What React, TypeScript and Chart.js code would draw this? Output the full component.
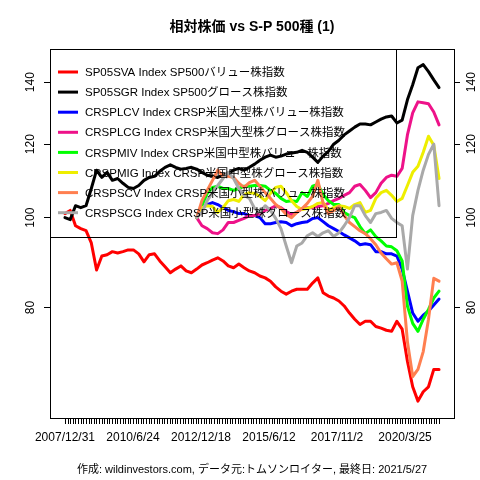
import { useEffect, useRef } from 'react';
import { Chart, registerables } from 'chart.js';

Chart.register(...registerables);

const TITLE = '相対株価 vs S-P 500種 (1)';
const CAPTION = '作成: wildinvestors.com, データ元:トムソンロイター, 最終日: 2021/5/27';
const X_LABELS = ['2007/12/31', '2010/6/24', '2012/12/18', '2015/6/12', '2017/11/2', '2020/3/25'];
const X_TICK_COUNT = 144;
const X_LABEL_EVERY = 26;
const Y_TICKS = [80, 100, 120, 140];
const Y_MIN = 60.8;
const Y_MAX = 152;
const LATE_START = 25;

const SERIES_NAMES = [
  'SP05SVA Index SP500バリュー株指数',
  'SP05SGR Index SP500グロース株指数',
  'CRSPLCV Index CRSP米国大型株バリュー株指数',
  'CRSPLCG Index CRSP米国大型株グロース株指数',
  'CRSPMIV Index CRSP米国中型株バリュー株指数',
  'CRSPMIG Index CRSP米国中型株グロース株指数',
  'CRSPSCV Index CRSP米国小型株バリュー株指数',
  'CRSPSCG Index CRSP米国小型株グロース株指数',
];
const SERIES_COLORS = ['#FF0000', '#000000', '#0000FF', '#EE1289', '#00FF00', '#EEEE00', '#FF7F50', '#A9A9A9'];

const SP05SVA = [
  101.0, 101.8, 98.0, 97.3, 96.8, 93.9, 87.8, 90.9, 91.2, 91.9,
  91.6, 91.9, 92.3, 92.3, 91.4, 89.6, 91.2, 91.4, 89.8, 88.5,
  87.2, 88.0, 88.7, 87.6, 87.2, 88.0, 88.9, 89.4, 90.0, 90.5,
  89.8, 88.7, 88.3, 89.1, 88.3, 87.6, 87.2, 86.5, 86.1, 85.4,
  84.2, 83.3, 82.7, 83.3, 83.7, 83.7, 83.7, 85.0, 86.1, 83.0,
  82.3, 81.9, 81.3, 80.3, 78.9, 77.7, 76.7, 77.3, 77.3, 76.3,
  76.0, 75.6, 75.4, 77.3, 75.8, 70.0, 65.7, 63.4, 64.9, 65.7,
  68.6, 68.6,
];
const SP05SGR = [
  100.0, 99.5, 103.0, 102.5, 103.0, 107.5, 112.5, 110.5, 111.9, 109.7,
  110.2, 108.9, 107.8, 107.5, 108.3, 109.7, 110.5, 110.8, 112.2, 113.3,
  114.0, 113.3, 112.8, 113.0, 113.3, 112.8, 111.9, 111.1, 110.8, 110.5,
  111.1, 111.6, 112.5, 113.0, 112.5, 113.3, 114.2, 115.3, 116.2, 116.8,
  116.2, 116.5, 117.1, 117.4, 117.6, 118.2, 117.6, 116.2, 114.7, 116.5,
  117.9, 120.0, 121.2, 122.8, 124.0, 125.2, 126.2, 126.2, 125.9, 126.8,
  127.7, 128.4, 128.7, 126.5, 127.4, 134.0, 139.1, 145.1, 146.2, 143.7,
  140.8, 138.1,
];
const CRSPLCV = [
  100.0, 102.3, 103.3, 103.8, 103.3, 102.5, 101.8, 101.5, 101.0, 101.0,
  100.5, 100.5, 100.0, 98.5, 98.5, 98.8, 99.0, 98.8, 98.0, 98.5,
  98.8, 99.0, 99.8, 100.0, 99.0, 98.0, 97.3, 96.6, 95.8, 95.1,
  94.4, 93.5, 93.7, 93.5, 91.9, 91.9, 91.4, 91.4, 90.9, 88.0,
  83.3, 78.9, 77.3, 78.5, 79.3, 80.5, 81.7,
];
const CRSPLCG = [
  100.0, 98.0, 97.3, 96.3, 96.1, 97.0, 98.8, 98.8, 99.3, 99.8,
  100.5, 100.5, 101.0, 101.8, 102.3, 103.0, 102.5, 101.5, 100.8, 101.3,
  102.3, 102.5, 102.5, 102.8, 103.0, 103.6, 104.3, 104.9, 105.7, 106.4,
  108.1, 108.6, 107.0, 105.1, 106.4, 108.9, 110.5, 111.1, 110.8, 113.0,
  122.8, 129.7, 133.3, 133.0, 132.7, 130.0, 125.9,
];
const CRSPMIV = [
  100.0, 103.0, 106.2, 107.8, 108.1, 107.5, 107.5, 107.0, 107.5, 108.1,
  108.1, 108.3, 108.3, 108.1, 107.0, 106.2, 104.9, 104.1, 104.3, 104.1,
  106.4, 105.4, 108.1, 108.6, 105.9, 104.3, 103.3, 103.3, 101.3, 100.5,
  100.0, 97.8, 96.1, 97.0, 95.4, 94.4, 93.2, 93.0, 92.1, 89.8,
  80.3, 76.9, 75.4, 77.7, 79.6, 81.9, 83.3,
];
const CRSPMIG = [
  100.0, 102.5, 103.0, 102.8, 101.3, 102.5, 104.3, 104.6, 104.1, 105.9,
  106.4, 106.2, 105.4, 104.3, 106.2, 107.8, 108.1, 106.4, 104.3, 102.8,
  102.0, 102.3, 102.8, 103.6, 103.8, 101.8, 102.5, 103.0, 102.8, 102.3,
  103.3, 103.8, 101.3, 101.8, 104.9, 106.4, 107.0, 105.7, 104.1, 104.9,
  108.3, 111.9, 113.6, 117.6, 122.4, 119.7, 110.2,
];
const CRSPSCV = [
  100.0, 104.3, 107.0, 109.7, 112.5, 110.8, 110.8, 110.5, 108.9, 107.8,
  109.1, 109.7, 108.1, 106.4, 104.9, 103.3, 102.3, 100.8, 100.0, 101.3,
  102.3, 103.6, 105.4, 109.7, 103.6, 101.0, 101.8, 102.8, 100.5, 98.8,
  97.8, 96.8, 96.1, 94.9, 93.5, 91.6, 90.3, 89.1, 89.4, 85.4,
  73.5, 67.4, 68.6, 71.7, 77.7, 86.0, 85.4,
];
const CRSPSCG = [
  100.0, 101.3, 104.3, 106.4, 108.3, 110.2, 111.9, 110.2, 107.5, 105.7,
  104.9, 102.3, 101.3, 103.0, 101.8, 99.8, 97.3, 93.2, 89.4, 93.2,
  93.9, 95.6, 96.3, 95.4, 96.3, 96.8, 95.4, 96.3, 98.0, 100.0,
  103.0, 103.0, 100.5, 98.8, 101.0, 101.3, 101.8, 99.8, 98.8, 98.0,
  88.0, 100.5, 107.0, 112.5, 117.0, 120.0, 103.0,
];

const SERIES_VALUES = [SP05SVA, SP05SGR, CRSPLCV, CRSPLCG, CRSPMIV, CRSPMIG, CRSPSCV, CRSPSCG];
const SERIES_STARTS = [0, 0, LATE_START, LATE_START, LATE_START, LATE_START, LATE_START, LATE_START];

const FONT = '"Liberation Sans", "Noto Sans CJK JP", sans-serif';
const FULL_N = SP05SVA.length;
const X_SPAN = X_TICK_COUNT - 1;
const xAt = (i: number) => (i * X_SPAN) / (FULL_N - 1);

const overlayPlugin = {
  id: 'overlay',
  afterDraw(chart: any) {
    const ctx = chart.ctx;
    const area = chart.chartArea;
    const yScale = chart.scales.y;
    const xScale = chart.scales.x;
    ctx.save();
    ctx.fillStyle = '#000';
    ctx.strokeStyle = '#000';

    // dense x tick marks
    ctx.lineWidth = 1;
    ctx.beginPath();
    for (let i = 0; i < X_TICK_COUNT; i++) {
      const px = Math.round(xScale.getPixelForValue(i)) + 0.5;
      ctx.moveTo(px, area.bottom);
      ctx.lineTo(px, area.bottom + 6);
    }
    ctx.stroke();

    // title
    ctx.font = `bold 14px ${FONT}`;
    ctx.textAlign = 'center';
    ctx.textBaseline = 'middle';
    const cx = (area.left + area.right) / 2;
    ctx.fillText(TITLE, cx, 27);

    // caption
    ctx.font = `11px ${FONT}`;
    ctx.fillText(CAPTION, cx, 470);

    // y tick labels (rotated, both sides)
    ctx.font = `12px ${FONT}`;
    for (const v of Y_TICKS) {
      const py = yScale.getPixelForValue(v);
      for (const px of [area.left - 19, area.right + 18]) {
        ctx.save();
        ctx.translate(px, py);
        ctx.rotate(-Math.PI / 2);
        ctx.textAlign = 'center';
        ctx.textBaseline = 'middle';
        ctx.fillText(String(v), 0, 0);
        ctx.restore();
      }
    }

    // legend
    const lx = area.left;
    const ly = area.top;
    const lw = 346;
    const lh = 188;
    ctx.lineWidth = 1;
    ctx.strokeRect(Math.round(lx) + 0.5, Math.round(ly) + 0.5, lw, lh);
    ctx.font = `11.5px ${FONT}`;
    ctx.textAlign = 'left';
    ctx.textBaseline = 'middle';
    SERIES_NAMES.forEach((name, k) => {
      const cy = ly + 23 + k * 20.1;
      ctx.beginPath();
      ctx.lineWidth = 3;
      ctx.strokeStyle = SERIES_COLORS[k];
      ctx.moveTo(lx + 8, cy);
      ctx.lineTo(lx + 28, cy);
      ctx.stroke();
      ctx.fillStyle = '#000';
      ctx.fillText(name, lx + 35, cy + 1);
    });

    // frame
    ctx.lineWidth = 1;
    ctx.strokeStyle = '#000';
    ctx.strokeRect(Math.round(area.left) + 0.5, Math.round(area.top) + 0.5,
      Math.round(area.right - area.left), Math.round(area.bottom - area.top));
    ctx.restore();
  },
};

export default function App() {
  const ref = useRef<HTMLCanvasElement | null>(null);

  useEffect(() => {
    const canvas = ref.current;
    if (!canvas) return;
    const datasets = SERIES_NAMES.map((name, k) => ({
      label: name,
      data: SERIES_VALUES[k].map((v, j) => ({ x: xAt(SERIES_STARTS[k] + j), y: v })),
      borderColor: SERIES_COLORS[k],
      backgroundColor: SERIES_COLORS[k],
      borderWidth: 3,
      pointRadius: 0,
      tension: 0,
      fill: false,
      borderCapStyle: 'round' as const,
      borderJoinStyle: 'round' as const,
      order: SERIES_NAMES.length - k,
    }));

    const gridOpts = {
      drawOnChartArea: false,
      drawTicks: true,
      tickLength: 6,
      color: '#000',
      lineWidth: 1,
    };

    const chart = new Chart(canvas, {
      type: 'line',
      data: { datasets },
      plugins: [overlayPlugin],
      options: {
        animation: false,
        responsive: false,
        devicePixelRatio: 1,
        layout: { padding: { top: 49, left: 0, right: 0, bottom: 0 } },
        plugins: {
          legend: { display: false },
          tooltip: { enabled: false },
          title: { display: false },
        },
        scales: {
          x: {
            type: 'linear',
            bounds: 'data',
            min: -0.04 * X_SPAN,
            max: X_SPAN * 1.04,
            afterBuildTicks: (s: any) => {
              s.ticks = X_LABELS.map((_, i) => ({ value: i * X_LABEL_EVERY }));
            },
            afterFit: (s: any) => {
              s.height = 62;
            },
            grid: { ...gridOpts, drawTicks: false, display: false },
            border: { display: false },
            ticks: {
              autoSkip: false,
              maxRotation: 0,
              minRotation: 0,
              padding: 12,
              color: '#000',
              font: { family: FONT, size: 12 },
              callback: (_v: any, index: number) => X_LABELS[index] ?? '',
            },
          },
          y: {
            type: 'logarithmic',
            position: 'left',
            bounds: 'data',
            min: Y_MIN,
            max: Y_MAX,
            afterBuildTicks: (s: any) => {
              s.ticks = Y_TICKS.map((v) => ({ value: v }));
            },
            afterFit: (s: any) => {
              s.width = 50;
            },
            grid: gridOpts,
            border: { display: false },
            ticks: { display: false },
          },
          y2: {
            type: 'logarithmic',
            position: 'right',
            bounds: 'data',
            min: Y_MIN,
            max: Y_MAX,
            afterBuildTicks: (s: any) => {
              s.ticks = Y_TICKS.map((v) => ({ value: v }));
            },
            afterFit: (s: any) => {
              s.width = 26;
            },
            grid: gridOpts,
            border: { display: false },
            ticks: { display: false },
          },
        },
      } as any,
    });
    return () => chart.destroy();
  }, []);

  return (
    <div style={{ position: 'absolute', left: 0, top: 0, width: 480, height: 480, background: '#fff' }}>
      <canvas ref={ref} width={480} height={480} style={{ display: 'block' }} />
    </div>
  );
}
